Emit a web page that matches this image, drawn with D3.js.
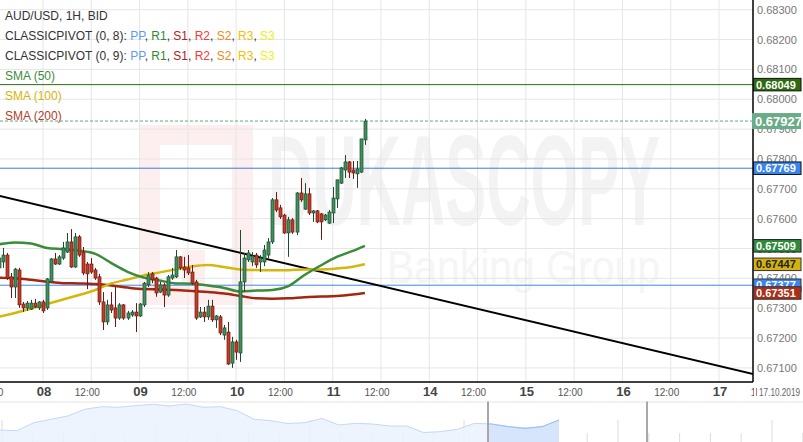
<!DOCTYPE html>
<html><head><meta charset="utf-8">
<script src="https://cdn.jsdelivr.net/npm/d3@7"></script>
<style>body{margin:0;background:#fff;} svg{display:block;font-family:"Liberation Sans",Arial,sans-serif;}</style>
</head><body><svg id="c" width="803" height="442"></svg>
<script>
// ---------- DATA ----------
// hourly bars, hour index counted from 2019-10-07 00:00 with the weekend removed
const startHour = 13; // first bar: 07 13:00
const open  = [0.67435,0.67455,0.67478,0.67405,0.67371,0.67428,0.67314,0.67301,0.67297,0.67317,0.67301,0.67321,0.67301,0.67388,0.67465,0.67448,0.67468,0.67488,0.67522,0.67438,0.67539,0.67488,0.67448,0.67448,0.67428,0.67405,0.67321,0.67254,0.67311,0.67301,0.67267,0.67311,0.67267,0.67277,0.67287,0.67274,0.67311,0.67378,0.67415,0.67401,0.67354,0.67378,0.67344,0.67401,0.67405,0.67472,0.67438,0.67435,0.67421,0.67388,0.67271,0.67287,0.67271,0.67307,0.67261,0.67271,0.67210,0.67220,0.67116,0.67187,0.67150,0.67388,0.67462,0.67455,0.67478,0.67455,0.67455,0.67478,0.67522,0.67663,0.67636,0.67612,0.67552,0.67596,0.67555,0.67686,0.67632,0.67683,0.67619,0.67626,0.67616,0.67596,0.67585,0.67619,0.67666,0.67719,0.67763,0.67790,0.67763,0.67750,0.67756,0.67864];
const high  = [0.67488,0.67502,0.67485,0.67418,0.67435,0.67435,0.67321,0.67324,0.67328,0.67331,0.67324,0.67328,0.67401,0.67468,0.67485,0.67478,0.67522,0.67552,0.67565,0.67552,0.67545,0.67505,0.67455,0.67468,0.67435,0.67415,0.67354,0.67328,0.67354,0.67371,0.67317,0.67314,0.67291,0.67294,0.67317,0.67317,0.67388,0.67421,0.67421,0.67405,0.67388,0.67384,0.67411,0.67435,0.67495,0.67475,0.67472,0.67478,0.67445,0.67395,0.67304,0.67304,0.67328,0.67328,0.67277,0.67277,0.67244,0.67254,0.67204,0.67194,0.67562,0.67485,0.67495,0.67488,0.67485,0.67478,0.67512,0.67535,0.67669,0.67689,0.67646,0.67616,0.67606,0.67602,0.67689,0.67736,0.67719,0.67703,0.67629,0.67629,0.67619,0.67616,0.67629,0.67706,0.67730,0.67773,0.67813,0.67793,0.67793,0.67793,0.67867,0.67934];
const low   = [0.67428,0.67435,0.67395,0.67334,0.67334,0.67301,0.67287,0.67291,0.67294,0.67301,0.67294,0.67284,0.67294,0.67384,0.67445,0.67445,0.67462,0.67485,0.67435,0.67435,0.67472,0.67411,0.67364,0.67415,0.67395,0.67311,0.67227,0.67244,0.67284,0.67237,0.67261,0.67261,0.67261,0.67271,0.67220,0.67271,0.67304,0.67371,0.67384,0.67338,0.67351,0.67304,0.67338,0.67395,0.67401,0.67428,0.67401,0.67411,0.67378,0.67261,0.67267,0.67254,0.67261,0.67254,0.67234,0.67210,0.67194,0.67110,0.67100,0.67127,0.67120,0.67354,0.67455,0.67441,0.67435,0.67421,0.67441,0.67468,0.67515,0.67622,0.67599,0.67549,0.67472,0.67549,0.67545,0.67656,0.67629,0.67612,0.67589,0.67585,0.67529,0.67592,0.67582,0.67585,0.67636,0.67716,0.67736,0.67736,0.67733,0.67703,0.67753,0.67847];
const close = [0.67468,0.67478,0.67401,0.67371,0.67431,0.67311,0.67301,0.67317,0.67317,0.67304,0.67321,0.67291,0.67398,0.67465,0.67448,0.67472,0.67502,0.67522,0.67438,0.67539,0.67478,0.67418,0.67415,0.67421,0.67401,0.67321,0.67254,0.67311,0.67294,0.67267,0.67311,0.67267,0.67284,0.67287,0.67274,0.67314,0.67384,0.67411,0.67395,0.67351,0.67378,0.67344,0.67405,0.67411,0.67472,0.67435,0.67428,0.67418,0.67384,0.67267,0.67287,0.67271,0.67307,0.67261,0.67274,0.67217,0.67234,0.67113,0.67187,0.67153,0.67388,0.67468,0.67485,0.67475,0.67445,0.67468,0.67495,0.67522,0.67663,0.67629,0.67606,0.67552,0.67596,0.67555,0.67686,0.67663,0.67683,0.67619,0.67626,0.67589,0.67589,0.67612,0.67622,0.67669,0.67730,0.67770,0.67790,0.67756,0.67753,0.67766,0.67867,0.67927];

const smaHours = [13,17,21,25,29,33,37,41,45,49,53,57,61,65,69,73,77,81,85,89,93,97,101,104];
const sma50  = [0.67514,0.67520,0.67517,0.67502,0.67498,0.67493,0.67482,0.67451,0.67422,0.67403,0.67393,0.67383,0.67382,0.67376,0.67368,0.67356,0.67359,0.67361,0.67374,0.67411,0.67443,0.67472,0.67492,0.67509];
const sma100 = [0.67271,0.67284,0.67299,0.67314,0.67329,0.67344,0.67361,0.67383,0.67396,0.67410,0.67420,0.67430,0.67440,0.67445,0.67438,0.67430,0.67428,0.67427,0.67427,0.67430,0.67430,0.67433,0.67439,0.67447];
const sma200 = [0.67402,0.67400,0.67395,0.67389,0.67384,0.67383,0.67381,0.67376,0.67369,0.67364,0.67363,0.67361,0.67358,0.67354,0.67349,0.67341,0.67333,0.67332,0.67333,0.67337,0.67339,0.67341,0.67346,0.67351];

const trendHours  = [13, 201];
const trendPrices = [0.67677, 0.67078];

const levelR = 0.68049, levelLast = 0.67927, levelPivot1 = 0.67769, levelPivot2 = 0.67377;

const priceTicks = [0.671,0.672,0.673,0.674,0.675,0.676,0.677,0.678,0.679,0.680,0.681,0.682,0.683];
const dayLabels = ["07","08","09","10","11","14","15","16","17"];
const dayHours  = [0,24,48,72,96,120,144,168,192];
const endDateLabel = "17.10.2019";

// navigator overview (price level history)
const navValues = [0.66700,0.66665,0.67065,0.67235,0.67400,0.67735,0.67865,0.67835,0.67915,0.67985,0.67900,0.68000,0.67835,0.67865,0.67665,0.67235,0.67165,0.67025,0.67065,0.67275,0.66950,0.67035,0.67000,0.66900,0.66900,0.66575,0.66615,0.66735,0.67035,0.67000,0.66865,0.66785,0.66865,0.67200];

// ---------- LAYOUT ----------
const W = 803, H = 442, plotR = 753, plotB = 382;
const svg = d3.select("#c");
const x = d3.scaleLinear().domain([24, 192]).range([43, 719]);
const y = d3.scaleLinear().domain([0.671, 0.683]).range([367.9, 9.7]);

svg.append("rect").attr("width", W).attr("height", H).attr("fill", "#fff");

// watermark
const wm = svg.append("g");
wm.append("path").attr("fill", "#fdefef")
  .attr("d", "M140,125H253V305H140Z M160,145V285H182V250H205V285H232V145Z");
wm.append("text").attr("x", 268).attr("y", 225).attr("font-size", 128).attr("font-weight", "bold")
  .attr("fill", "#f3f3f3").attr("textLength", 392).attr("lengthAdjust", "spacingAndGlyphs").text("DUKASCOPY");
wm.append("text").attr("x", 387).attr("y", 283).attr("font-size", 46)
  .attr("fill", "#f5f5f5").attr("textLength", 273).attr("lengthAdjust", "spacingAndGlyphs").text("Banking Group");

// clip
svg.append("clipPath").attr("id", "plot").append("rect").attr("x", 0).attr("y", 0).attr("width", plotR).attr("height", plotB);
const g = svg.append("g").attr("clip-path", "url(#plot)");

// grid
const gridHours = d3.range(-12, 205, 12);
g.selectAll(".vg").data(gridHours).join("line")
  .attr("x1", d => x(d)).attr("x2", d => x(d)).attr("y1", 0).attr("y2", plotB)
  .attr("stroke", "#e6e6e6").attr("stroke-width", 1);
g.selectAll(".hg").data(priceTicks).join("line")
  .attr("x1", 0).attr("x2", plotR).attr("y1", d => y(d)).attr("y2", d => y(d))
  .attr("stroke", "#e6e6e6").attr("stroke-width", 1);

// horizontal levels
function hline(v, color, dash) {
  g.append("line").attr("x1", 0).attr("x2", plotR).attr("y1", y(v)).attr("y2", y(v))
    .attr("stroke", color).attr("stroke-width", 1).attr("stroke-dasharray", dash || null);
}
hline(levelR, "#2e6b0f");
hline(levelLast, "#5fa882", "3,2");
hline(levelPivot1, "#3a7bdc");
hline(levelPivot2, "#3a88f0");

// trend line
g.append("line").attr("x1", x(trendHours[0])).attr("y1", y(trendPrices[0]))
  .attr("x2", x(trendHours[1])).attr("y2", y(trendPrices[1]))
  .attr("stroke", "#000").attr("stroke-width", 2);

// SMAs
const lineGen = d3.line().x((d, i) => x(smaHours[i])).y(d => y(d)).curve(d3.curveMonotoneX);
[[sma200, "#a3260f"], [sma100, "#d4b60c"], [sma50, "#3a8c38"]].forEach(([s, c]) => {
  g.append("path").attr("d", lineGen(s)).attr("fill", "none").attr("stroke", c).attr("stroke-width", 2.5);
});

// candles
const bars = open.map((o, i) => ({ t: startHour + i, o, h: high[i], l: low[i], c: close[i] }));
const upFill = "#3f8f5f", upLine = "#1d4a30", dnFill = "#c63a28", dnLine = "#6a1a10";
const cg = g.append("g");
bars.forEach(b => {
  const up = b.c >= b.o;
  const cx = Math.round(x(b.t)) + 0.5;
  cg.append("line").attr("x1", cx).attr("x2", cx).attr("y1", y(b.h)).attr("y2", y(b.l))
    .attr("stroke", up ? upLine : dnLine).attr("stroke-width", 1);
  const top = y(Math.max(b.o, b.c)), bot = y(Math.min(b.o, b.c));
  cg.append("rect").attr("x", cx - 1.5).attr("y", top).attr("width", 3).attr("height", Math.max(1, bot - top))
    .attr("fill", up ? upFill : dnFill).attr("stroke", up ? upLine : dnLine).attr("stroke-width", 0.7);
});

// axes lines
svg.append("line").attr("x1", plotR).attr("x2", plotR).attr("y1", 0).attr("y2", plotB).attr("stroke", "#000").attr("stroke-width", 1.5);
svg.append("line").attr("x1", 0).attr("x2", plotR).attr("y1", plotB).attr("y2", plotB).attr("stroke", "#000").attr("stroke-width", 1.5);

// right axis labels
svg.selectAll(".yt").data(priceTicks).join("text")
  .attr("x", 757).attr("y", d => y(d) + 4).attr("font-size", 11).attr("fill", "#777")
  .text(d => d.toFixed(5));

// price boxes
function box(v, fill, border, txtColor, big) {
  const hgt = big ? 16 : 12.5;
  const yy = y(v) - hgt / 2;
  svg.append("rect").attr("x", big ? 752 : 753.5).attr("y", yy).attr("width", big ? 49 : 47.5).attr("height", hgt)
    .attr("fill", fill).attr("stroke", border || "none").attr("stroke-width", 1);
  svg.append("text").attr("x", big ? 755 : 756).attr("y", yy + hgt / 2 + (big ? 5 : 4))
    .attr("font-size", big ? 13 : 11).attr("font-weight", "bold").attr("fill", txtColor).text(v.toFixed(5));
}
box(levelR, "#2e6b0f", "#111", "#fff");
box(levelLast, "#6aab88", null, "#fff", true);
box(levelPivot1, "#3a84f0", "#111", "#fff");
box(sma50[sma50.length - 1], "#2f8a3a", "#222", "#fff");
box(sma100[sma100.length - 1], "#d3b10e", "#333", "#222");
box(levelPivot2, "#3a84f0", "#333", "#fff");
box(sma200[sma200.length - 1], "#a8301a", "#333", "#fff");

// bottom axis labels
dayHours.forEach((h, i) => {
  svg.append("text").attr("x", x(h) + 1).attr("y", 396).attr("text-anchor", "middle")
    .attr("font-size", 13).attr("font-weight", "bold").attr("fill", "#444").text(dayLabels[i]);
  svg.append("text").attr("x", x(h + 12) - 4).attr("y", 395.5).attr("text-anchor", "middle")
    .attr("font-size", 10).attr("fill", "#555").text("12:00");
});
svg.append("rect").attr("x", plotR + 1).attr("y", 383).attr("width", 50).attr("height", 18).attr("fill", "#fff");
svg.append("line").attr("x1", 756.5).attr("x2", 756.5).attr("y1", 388).attr("y2", 396).attr("stroke", "#888");
svg.append("text").attr("x", 759).attr("y", 396).attr("font-size", 10).attr("fill", "#666")
  .attr("textLength", 41).attr("lengthAdjust", "spacingAndGlyphs").text(endDateLabel);

// navigator
const navTop = 402;
svg.append("line").attr("x1", 0).attr("x2", W).attr("y1", navTop).attr("y2", navTop).attr("stroke", "#e4e4e4");
const nx = d3.scaleLinear().domain([0, navValues.length - 1]).range([0, 559]);
const ny = d3.scaleLinear().domain([0.6655, 0.6800]).range([433, 404]);
const navTicks = d3.range(0, 27);
const ntx = d3.scaleLinear().domain([0, 26]).range([2, 802.8]);
svg.selectAll(".nt").data(navTicks).join("line")
  .attr("x1", d => ntx(d)).attr("x2", d => ntx(d)).attr("y1", d => d % 5 === 0 ? 420 : 433).attr("y2", H)
  .attr("stroke", "#dcdcdc").attr("stroke-width", 1);
const area = d3.area().x((d, i) => nx(i)).y0(H).y1(d => ny(d));
const line = d3.line().x((d, i) => nx(i)).y(d => ny(d));
svg.append("path").attr("d", area(navValues)).attr("fill", "#eaf2fd").attr("fill-opacity", 0.85);
svg.append("path").attr("d", line(navValues)).attr("fill", "none").attr("stroke", "#c4d8f6").attr("stroke-width", 1);
svg.append("clipPath").attr("id", "sel").append("rect").attr("x", 488).attr("y", navTop).attr("width", 160).attr("height", 40);
const sg = svg.append("g").attr("clip-path", "url(#sel)");
sg.append("path").attr("d", area(navValues)).attr("fill", "#d6e5fb");
sg.append("path").attr("d", line(navValues)).attr("fill", "none").attr("stroke", "#9fc0f2").attr("stroke-width", 1.2);
[488, 647].forEach(px => svg.append("line").attr("x1", px).attr("x2", px).attr("y1", navTop - 0.5).attr("y2", H)
  .attr("stroke", "#a8a8a8").attr("stroke-width", 2));

// legend
const lg = svg.append("g").attr("font-size", 12);
lg.append("text").attr("x", 5).attr("y", 20).attr("fill", "#333").text("AUD/USD, 1H, BID");
const pivColors = [["PP", "#5b9bf0"], ["R1", "#2d8a2d"], ["S1", "#b02020"], ["R2", "#f03c3c"], ["S2", "#f08a1c"], ["R3", "#f2c100"], ["S3", "#f0ee1a"]];
["CLASSICPIVOT (0, 8): ", "CLASSICPIVOT (0, 9): "].forEach((lbl, j) => {
  const t = lg.append("text").attr("x", 5).attr("y", 40 + j * 20).attr("fill", "#333");
  t.append("tspan").text(lbl);
  pivColors.forEach(([n, c], k) => {
    t.append("tspan").attr("fill", c).text(n);
    if (k < pivColors.length - 1) t.append("tspan").attr("fill", "#333").text(", ");
  });
});
lg.append("text").attr("x", 5).attr("y", 80).attr("fill", "#3b8c3b").text("SMA (50)");
lg.append("text").attr("x", 5).attr("y", 100).attr("fill", "#d6b40c").text("SMA (100)");
lg.append("text").attr("x", 5).attr("y", 120).attr("fill", "#b0402a").text("SMA (200)");
</script></body></html>
